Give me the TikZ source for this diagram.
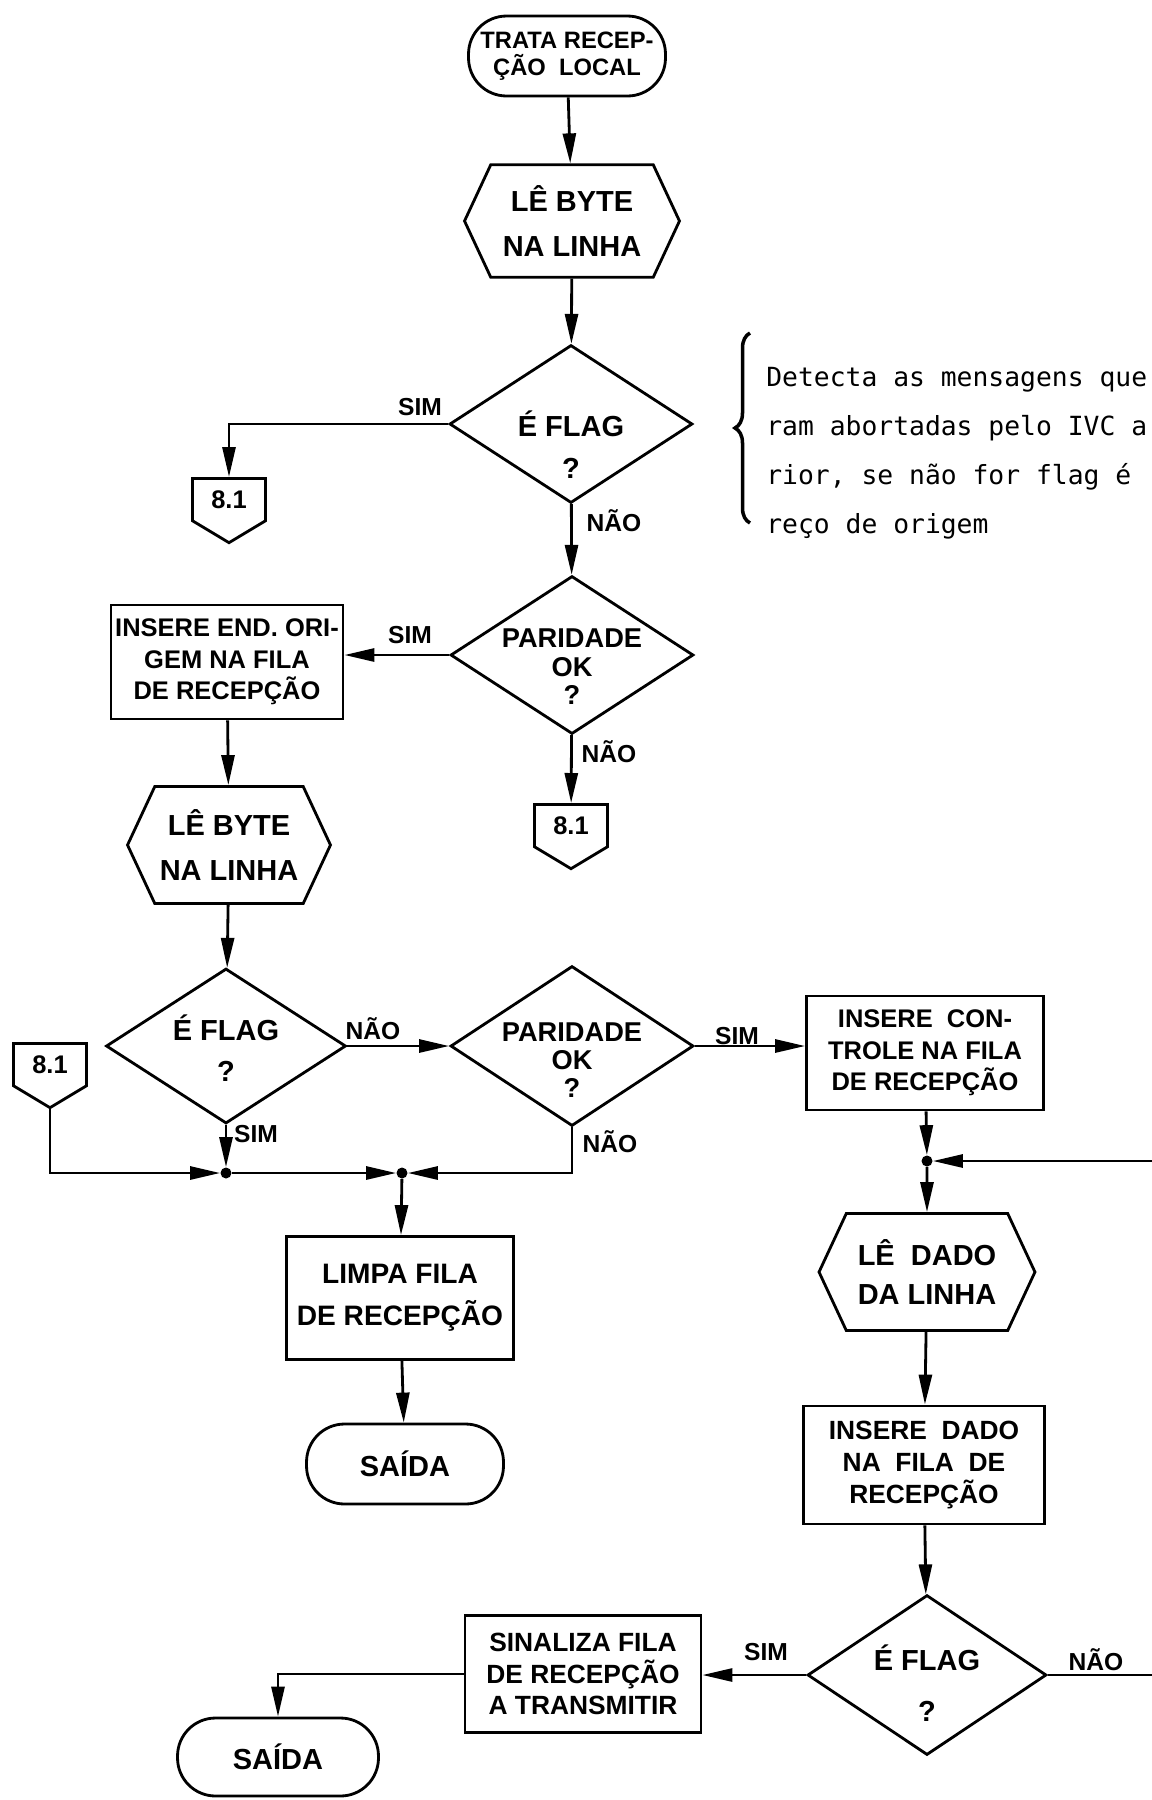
\documentclass[tikz,border=0pt]{standalone}
\usepackage{fontspec}
\setmainfont{Liberation Sans}
\newfontfamily\maquina{DejaVu Sans Mono}
\usepackage{tikz}
\usetikzlibrary{arrows.meta,shapes.geometric,shapes.symbols,decorations.pathreplacing}

\newcommand{\caixafont}{\bfseries\fontsize{14.5}{18}\selectfont}
\newcommand{\grandefont}{\bfseries\fontsize{16.5}{20}\selectfont}
\newcommand{\rotfont}{\bfseries\fontsize{14}{16}\selectfont}
\newcommand{\notafont}{\maquina\fontsize{15}{27.8}\selectfont}
% escora invisivel que baixa o texto dentro do losango
\newcommand{\calco}[1]{\rule{0pt}{#1}}

\tikzset{
    fluxo/.style={draw,line width=1.6pt,font=\caixafont,align=center,inner sep=0pt},
    term/.style={fluxo,rounded corners=0.76cm,minimum width=3.94cm,minimum height=1.6cm},
    proc/.style={fluxo,rectangle,minimum width=4.7cm,minimum height=2.3cm},
    leitura/.style={fluxo,font=\grandefont,signal,signal to=east and west,signal pointer angle=130,
        minimum width=4.3cm,minimum height=2.25cm},
    decisao/.style={fluxo,font=\grandefont,diamond,aspect=1.55,inner sep=-0.25cm,
        minimum width=4.86cm,minimum height=3.16cm},
    paridade/.style={decisao,font=\bfseries\fontsize{15.5}{20}\selectfont},
    conector/.style={fluxo,signal,signal to=south,signal from=nowhere,
        signal pointer angle=118,minimum width=1.46cm,minimum height=1.06cm,anchor=north},
    juncao/.style={circle,fill,inner sep=0pt,minimum size=0.22cm},
    rotulo/.style={font=\rotfont,inner sep=1pt},
    linha/.style={line width=1.6pt},
    seta/.style={linha,-{Triangle[length=0.6cm,width=0.26cm]}},
}

\begin{document}
\begin{tikzpicture}[x=0.02cm,y=-0.02cm]
\useasboundingbox (0,0) rectangle (1152,1800);

% coluna principal
\node[term,font=\bfseries\fontsize{13.5}{17}\selectfont] (inicio) at (567,56) {TRATA RECEP-\\[-2pt]ÇÃO\ \ LOCAL};
\node[leitura] (le1) at (572,221) {LÊ BYTE\\[6pt]NA LINHA};
\node[decisao] (flag1) at (571,424) {\calco{38pt}É\ FLAG\\[3.5pt]?};
\node[conector] (conA) at (229,477) {8.1};
\node[paridade] (par1) at (572,655) {\calco{24pt}PARIDADE\\[-4pt]OK\\[-4pt]?};
\node[conector] (conB) at (571,803) {8.1};

\draw[seta] (inicio) -- (le1);
\draw[seta] (le1) -- (flag1);
\draw[seta] (flag1.west) -| (conA.north);
\draw[seta] (flag1) -- (par1);
\draw[seta] (par1) -- (conB);
\node[rotulo] (s1) at (420,407) {SIM};
\node[rotulo] (n1) at (614,521) {NÃO};
\node[rotulo] (n2) at (609,752) {NÃO};

% endereco de origem
\node[proc,minimum width=4.64cm,minimum height=2.28cm] (ins1) at (227,662)
    {INSERE END. ORI-\\GEM NA FILA\\DE RECEPÇÃO};
\node[leitura,minimum width=4.06cm,minimum height=2.34cm] (le2) at (229,845)
    {LÊ BYTE\\[6pt]NA LINHA};
\node[decisao,minimum width=4.8cm,minimum height=3.1cm] (flag2) at (226,1046) {\calco{17pt}É\ FLAG\\[3.5pt]?};
\node[paridade,minimum height=3.2cm] (par2) at (572,1046) {\calco{27pt}PARIDADE\\[-4pt]OK\\[-4pt]?};
\node[proc,minimum width=4.74cm,minimum height=2.28cm] (ins2) at (925,1053)
    {INSERE\ \ CON-\\TROLE NA FILA\\DE RECEPÇÃO};
\node[conector] (conC) at (50,1042) {8.1};

\draw[seta] (par1.west) -- (par1.west -| ins1.east);
\draw[seta] (ins1) -- (le2);
\draw[seta] (le2) -- (flag2);
\draw[seta] (flag2.east) -- (par2.west);
\draw[seta] (par2.east) -- (par2.east -| ins2.west);
\node[rotulo] (s2) at (410,635) {SIM};
\node[rotulo] (n3) at (373,1029) {NÃO};
\node[rotulo] (s3) at (256,1134) {SIM};
\node[rotulo] (s4) at (737,1036) {SIM};
\node[rotulo] (n4) at (610,1142) {NÃO};

% limpeza da fila
\node[juncao] (j1) at (226,1173) {};
\node[juncao] (j2) at (402,1173) {};
\node[proc,font=\bfseries\fontsize{16}{20}\selectfont,minimum width=4.54cm,minimum height=2.46cm] (limpa) at (400,1298)
    {LIMPA FILA\\[4pt]DE RECEPÇÃO};
\node[term,font=\grandefont] (saida1) at (405,1464) {SAÍDA};

\draw[seta] (conC.south) |- (j1);
\draw[seta] (flag2) -- (j1);
\draw[seta] (j1) -- (j2);
\draw[seta] (par2.south) |- (j2);
\draw[seta] (j2) -- (limpa);
\draw[seta] (limpa) -- (saida1);

% leitura dos dados
\node[juncao] (j3) at (927,1161) {};
\node[leitura,minimum width=4.32cm,minimum height=2.34cm] (le3) at (927,1272)
    {LÊ\ \ DADO\\[2pt]DA\ LINHA};
\node[proc,font=\bfseries\fontsize{15}{18}\selectfont,minimum width=4.82cm,minimum height=2.36cm] (ins3) at (924,1465)
    {INSERE\ \ DADO\\NA\ \ FILA\ \ DE\\RECEPÇÃO};
\node[decisao,minimum width=4.78cm,minimum height=3.2cm] (flag3) at (927,1675) {\calco{24pt}É\ FLAG\\[9pt]?};
\node[proc,font=\bfseries\fontsize{15}{18}\selectfont,minimum width=4.72cm,minimum height=2.34cm] (sinal) at (583,1674)
    {SINALIZA FILA\\DE RECEPÇÃO\\A TRANSMITIR};
\node[term,font=\grandefont,minimum width=4.02cm,minimum height=1.56cm] (saida2) at (278,1757) {SAÍDA};
\coordinate (volta) at (1158,1675);

\draw[seta] (ins2) -- (j3);
\draw[seta] (flag3.east) -- (volta) |- (j3);
\draw[seta] (j3) -- (le3);
\draw[seta] (le3) -- (ins3);
\draw[seta] (ins3) -- (flag3);
\draw[seta] (flag3.west) -- (flag3.west -| sinal.east);
\draw[seta] (sinal.west) -| (saida2.north);
\node[rotulo] (s5) at (766,1652) {SIM};
\node[rotulo] (n5) at (1096,1660) {NÃO};

% nota lateral
\draw[line width=2pt,decorate,decoration={brace,amplitude=0.3cm}] (750,523) -- (750,333);
\node[font=\notafont,align=left,anchor=west,inner sep=0pt] (nota) at (766,453)
    {Detecta as mensagens que\\ram abortadas pelo IVC a\\rior, se não for flag é\\reço de origem};
\end{tikzpicture}
\end{document}
